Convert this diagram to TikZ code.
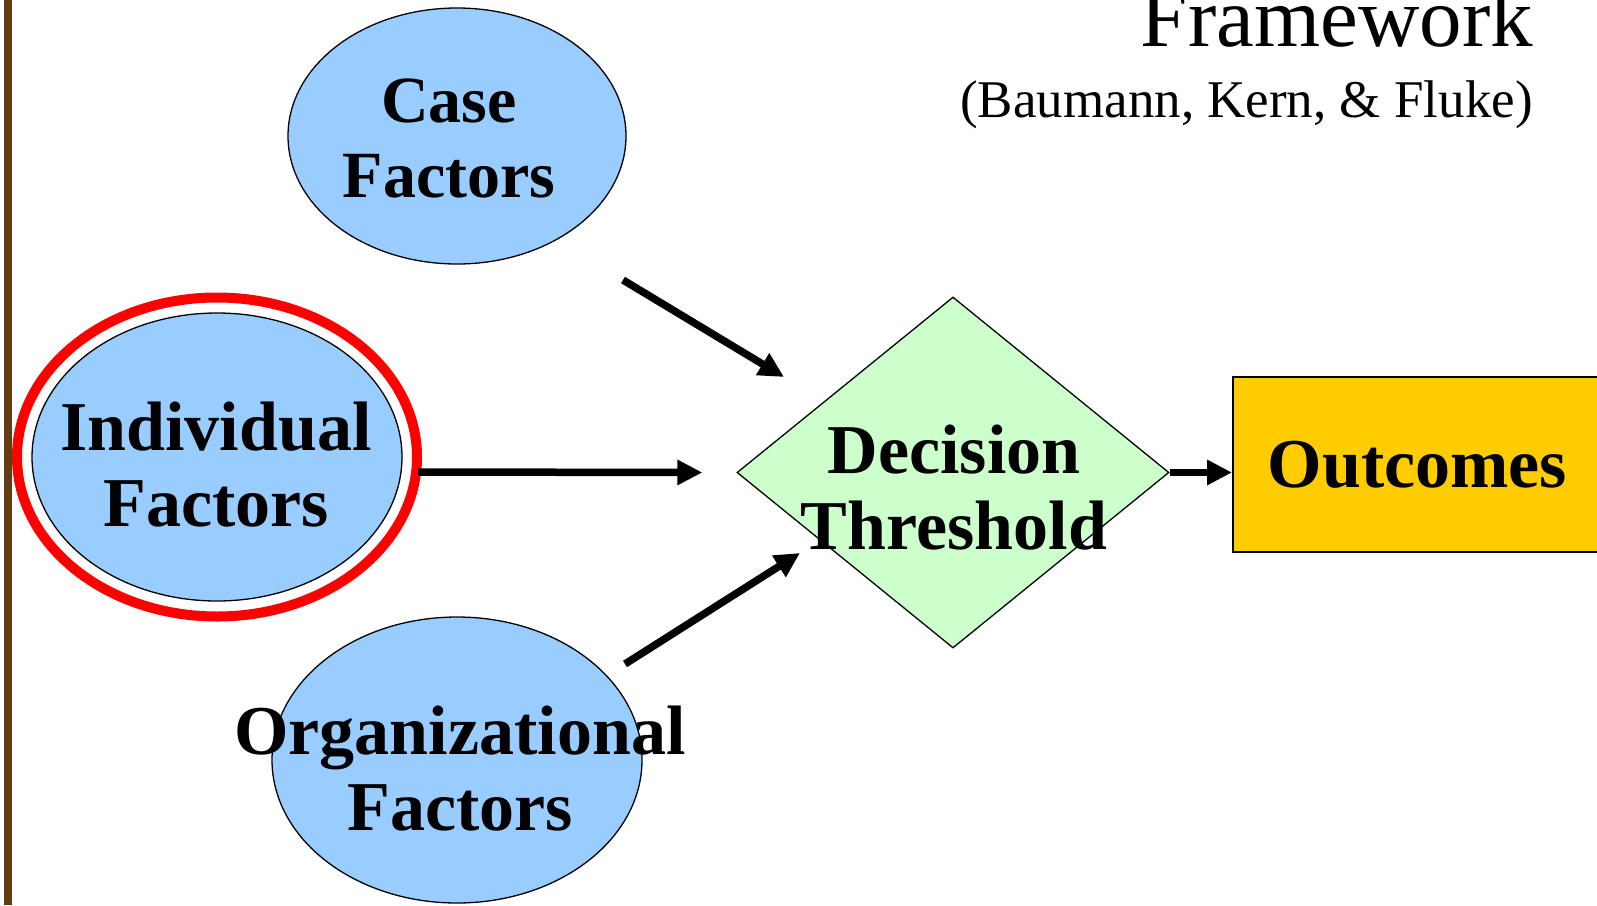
\documentclass[tikz,border=0pt]{standalone}
\usepackage{fontspec}
\setmainfont{Liberation Serif}
\usetikzlibrary{shapes.geometric,arrows.meta,calc}

\definecolor{rimbrown}{RGB}{99,60,18}
\definecolor{factorblue}{RGB}{153,204,255}
\definecolor{threshgreen}{RGB}{204,255,204}
\definecolor{outgold}{RGB}{255,204,0}

\tikzset{
  factor/.style={ellipse, draw, fill=factorblue, line width=1.3pt, inner sep=0pt},
  lbl/.style={font=\bfseries\fontsize{70}{76}\selectfont, align=center, inner sep=0pt},
  arr/.style={line width=7.5pt, -{Triangle[length=25pt,width=24pt]}}
}

\begin{document}
\begin{tikzpicture}[x=1pt,y=-1pt]

\useasboundingbox (0,0) rectangle (1597,905);
\clip (0,0) rectangle (1597,905);

\draw[rimbrown,line width=8pt] (8,0) -- (8,905);

% heading
\node[anchor=base east, inner sep=0pt, font=\fontsize{85}{90}\selectfont] (title) at (1533,46) {Framework};
\node[anchor=base east, inner sep=0pt, font=\fontsize{53}{60}\selectfont] (cite) at (1533,117) {(Baumann, Kern, \& Fluke)};

% shapes
\node[factor, minimum width=338, minimum height=256] (case) at (457,136) {};
\draw[red,line width=10pt] (217,457) ellipse (200 and 159.5);
\node[factor, minimum width=370, minimum height=288] (indiv) at (217,457) {};
\node[factor, minimum width=370, minimum height=286] (org) at (457,760) {};
\node[diamond, draw, fill=threshgreen, line width=1.3pt, inner sep=0pt,
      minimum width=432, minimum height=351] (dec) at (953,472.5) {};
\node[rectangle, draw, fill=outgold, line width=2pt, inner sep=0pt,
      minimum width=440, minimum height=175] (out) at (1453,464.5) {};

% labels
\node[lbl, font=\bfseries\fontsize{66}{75}\selectfont] (caset) at (449,138) {Case\\Factors};
\node[lbl] (indivt) at (216,465) {Individual\\Factors};
\node[lbl] (orgt) at (460,769) {Organizational\\Factors};
\node[lbl] (dect) at (954,487.5) {Decision\\Threshold};
\node[lbl] (outt) at (1417.5,464.5) {Outcomes};

% arrows
\draw[arr] ($(case.center)+(166,144)$) -- ($(dec.center)+(-169,-95.5)$);
\draw[arr] ($(indiv.center)+(201,15)$) -- ($(dec.west)+(-34,0)$);
\draw[arr] ($(org.center)+(168,-96)$) -- ($(dec.center)+(-153,80.5)$);
\draw[arr] (dec.east) -- (dec.east -| out.west);

\end{tikzpicture}
\end{document}
